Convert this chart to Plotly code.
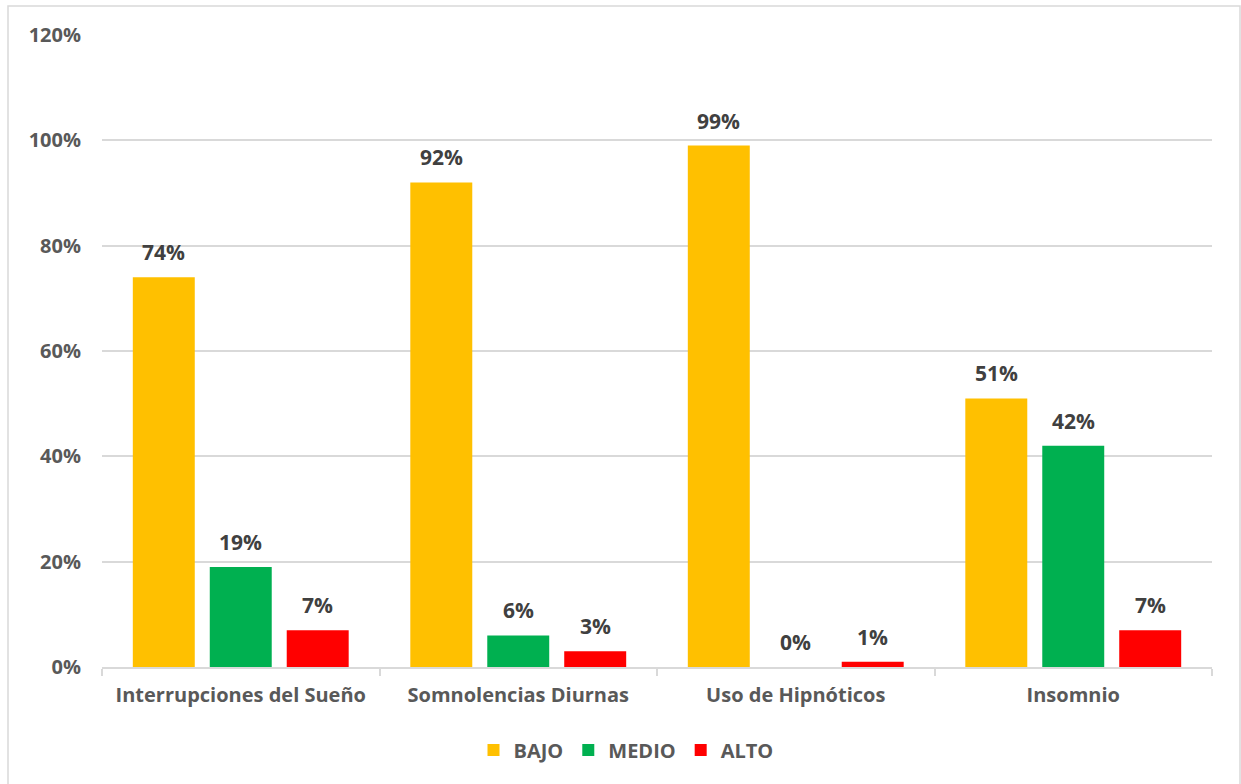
import plotly.graph_objects as go

categories = ["Interrupciones del Sueño", "Somnolencias Diurnas", "Uso de Hipnóticos", "Insomnio"]
series_names = ["BAJO", "MEDIO", "ALTO"]
bajo = [74, 92, 99, 51]
medio = [19, 6, 0, 42]
alto = [7, 3, 1, 7]
y_ticks = [0, 20, 40, 60, 80, 100, 120]
y_tick_labels = ["0%", "20%", "40%", "60%", "80%", "100%", "120%"]

colors = ["#FFC000", "#00B050", "#FF0000"]
FONT = "Open Sans"
TEXT_GREY = "#595959"
LABEL_GREY = "#404040"
GRID = "#D9D9D9"

W, H = 1241, 784
M_L, M_R, M_T, M_B = 102, 29, 35, 117
BARGAP = 0.168
plot_w = W - M_L - M_R
plot_h = H - M_T - M_B
slot_px = plot_w / len(categories) * (1 - BARGAP) / len(series_names)

fig = go.Figure()
values = [bajo, medio, alto]
for name, vals, col in zip(series_names, values, colors):
    fig.add_trace(go.Bar(
        name=name, x=categories, y=vals,
        marker=dict(color=col, line=dict(width=0)),
        hoverinfo="skip",
    ))

# value labels above each bar
annotations = []
for i, vals in enumerate(values):
    shift = (i - (len(values) - 1) / 2) * slot_px
    for cat, v in zip(categories, vals):
        annotations.append(dict(
            x=cat, y=v, xref="x", yref="y",
            text=f"{v}%", showarrow=False,
            xshift=shift, yshift=25, yanchor="middle",
            font=dict(family=FONT, size=21, color=LABEL_GREY, weight="bold"),
        ))

# outer chart frame
px2x = lambda p: (p - M_L) / plot_w
px2y = lambda p: (H - M_B - p) / plot_h
shapes = [dict(
    type="rect", xref="paper", yref="paper",
    x0=px2x(8), x1=px2x(1240), y0=px2y(820), y1=px2y(6),
    line=dict(color="#D9D9D9", width=1.5), fillcolor="rgba(0,0,0,0)", layer="below",
)]

fig.update_layout(
    width=W, height=H,
    margin=dict(l=M_L, r=M_R, t=M_T, b=M_B),
    paper_bgcolor="white", plot_bgcolor="white",
    barmode="group", bargap=BARGAP, bargroupgap=0.195,
    font=dict(family=FONT, color=TEXT_GREY, size=20),
    showlegend=True,
    legend=dict(
        orientation="h", x=px2x(626), xanchor="center", y=px2y(750), yanchor="middle",
        font=dict(family=FONT, size=20, color=TEXT_GREY, weight="bold"),
        itemwidth=30, traceorder="normal",
    ),
    annotations=annotations,
    shapes=shapes,
    xaxis=dict(
        type="category", showgrid=False,
        showline=True, linecolor=GRID, linewidth=1.5,
        ticks="outside", tickson="boundaries", ticklen=7, tickcolor=GRID, tickwidth=1.5,
        tickfont=dict(family=FONT, size=20, color=TEXT_GREY, weight="bold"),
        ticklabelstandoff=9,
    ),
    yaxis=dict(
        range=[0, 120], tickvals=y_ticks, ticktext=y_tick_labels,
        showgrid=True, gridcolor=GRID, gridwidth=1.5,
        zeroline=False, showline=False, ticks="",
        tickfont=dict(family=FONT, size=20, color=TEXT_GREY, weight="bold"),
        ticklabelstandoff=20,
    ),
)

fig.write_html("out.html")
